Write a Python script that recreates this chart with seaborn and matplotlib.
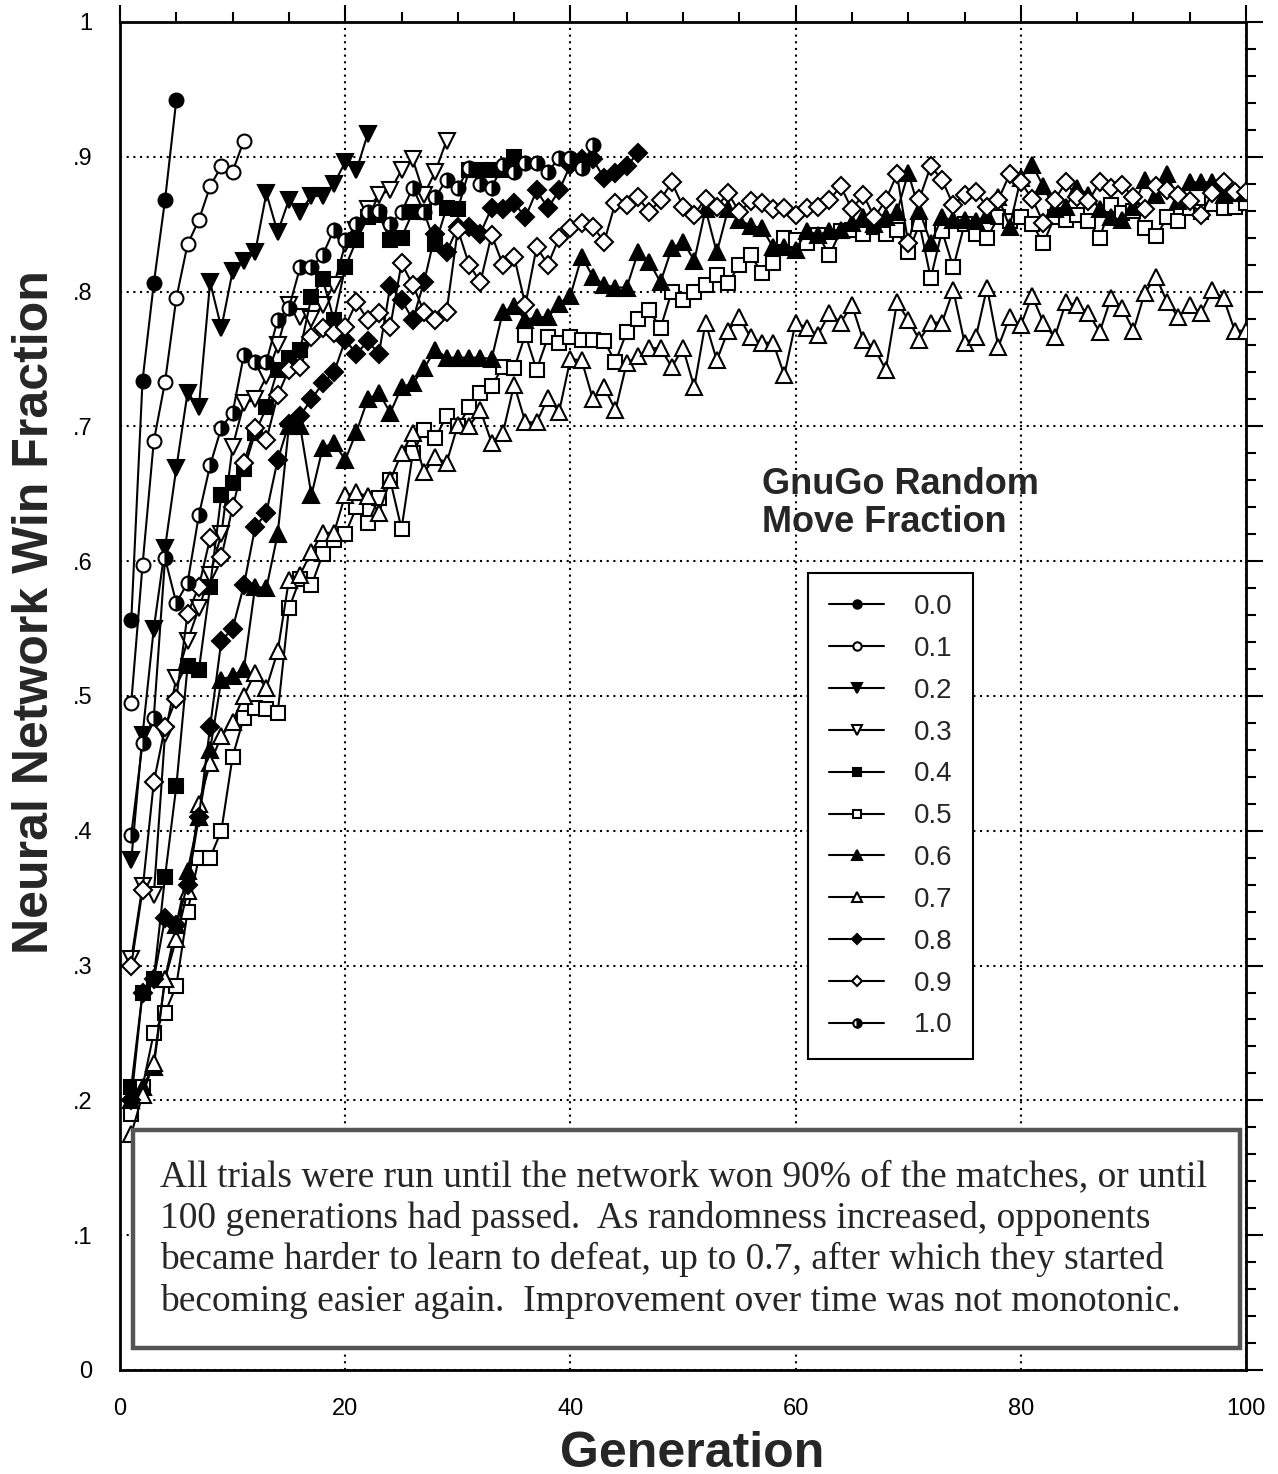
"""
GnuGo random move fraction vs neural network win fraction.
Recreates the per-generation win-fraction curves for 11 opponent settings.
"""

import matplotlib
matplotlib.use("Agg")

import numpy as np
import pandas as pd
import matplotlib.pyplot as plt
from matplotlib.patches import Rectangle
from matplotlib.ticker import MultipleLocator, FixedLocator, FixedFormatter
import seaborn as sns


# =============================================================================
# DATA (win fraction per generation, generation starts at 1)
# =============================================================================

LABELS = ["0.0", "0.1", "0.2", "0.3", "0.4", "0.5",
          "0.6", "0.7", "0.8", "0.9", "1.0"]

win_00 = [0.556, 0.734, 0.806, 0.868, 0.942]

win_01 = [0.495, 0.597, 0.689, 0.733, 0.795, 0.835, 0.853, 0.878, 0.893,
          0.889, 0.912]

win_02 = [0.378, 0.471, 0.550, 0.610, 0.669, 0.725, 0.714, 0.807, 0.773,
          0.815, 0.823, 0.829, 0.873, 0.844, 0.868, 0.859, 0.871, 0.871,
          0.880, 0.896, 0.890, 0.917]

win_03 = [0.305, 0.359, 0.352, 0.472, 0.513, 0.541, 0.565, 0.590, 0.620,
          0.685, 0.717, 0.720, 0.737, 0.760, 0.790, 0.781, 0.780, 0.790,
          0.805, 0.835, 0.846, 0.861, 0.872, 0.875, 0.890, 0.898, 0.872,
          0.889, 0.912]

win_04 = [0.210, 0.280, 0.290, 0.366, 0.433, 0.522, 0.519, 0.581, 0.649,
          0.658, 0.668, 0.695, 0.714, 0.742, 0.751, 0.757, 0.796, 0.809,
          0.779, 0.818, 0.838, 0.855, 0.857, 0.838, 0.840, 0.859, 0.859,
          0.835, 0.862, 0.861, 0.890, 0.890, 0.890, 0.890, 0.900]

win_05 = [0.190, 0.210, 0.250, 0.265, 0.285, 0.340, 0.380, 0.380, 0.400,
          0.455, 0.484, 0.491, 0.490, 0.487, 0.565, 0.587, 0.582, 0.605,
          0.616, 0.620, 0.640, 0.628, 0.647, 0.660, 0.624, 0.680, 0.697,
          0.691, 0.708, 0.700, 0.714, 0.725, 0.730, 0.744, 0.743, 0.768,
          0.742, 0.766, 0.762, 0.766, 0.764, 0.764, 0.763, 0.748, 0.770,
          0.780, 0.786, 0.773, 0.800, 0.794, 0.800, 0.805, 0.812, 0.806,
          0.820, 0.827, 0.814, 0.821, 0.840, 0.838, 0.836, 0.842, 0.827,
          0.845, 0.846, 0.843, 0.848, 0.843, 0.846, 0.829, 0.850, 0.810,
          0.845, 0.818, 0.850, 0.843, 0.840, 0.855, 0.852, 0.855, 0.850,
          0.836, 0.855, 0.853, 0.857, 0.852, 0.840, 0.864, 0.858, 0.860,
          0.847, 0.841, 0.855, 0.852, 0.862, 0.859, 0.865, 0.862, 0.863,
          0.866]

win_06 = [0.200, 0.210, 0.225, 0.290, 0.330, 0.370, 0.410, 0.460, 0.512,
          0.515, 0.520, 0.581, 0.580, 0.620, 0.700, 0.700, 0.649, 0.684,
          0.688, 0.675, 0.696, 0.720, 0.725, 0.710, 0.729, 0.732, 0.743,
          0.757, 0.751, 0.751, 0.751, 0.751, 0.750, 0.785, 0.789, 0.779,
          0.781, 0.781, 0.791, 0.797, 0.826, 0.811, 0.805, 0.803, 0.803,
          0.829, 0.822, 0.807, 0.832, 0.837, 0.823, 0.861, 0.829, 0.861,
          0.853, 0.849, 0.847, 0.833, 0.833, 0.831, 0.845, 0.842, 0.845,
          0.846, 0.851, 0.855, 0.850, 0.855, 0.859, 0.888, 0.860, 0.836,
          0.855, 0.853, 0.853, 0.852, 0.857, 0.870, 0.848, 0.884, 0.894,
          0.878, 0.861, 0.863, 0.877, 0.872, 0.861, 0.855, 0.853, 0.863,
          0.883, 0.872, 0.887, 0.867, 0.881, 0.881, 0.881, 0.872, 0.873,
          0.873]

win_07 = [0.175, 0.204, 0.228, 0.290, 0.320, 0.355, 0.420, 0.450, 0.470,
          0.481, 0.500, 0.517, 0.506, 0.533, 0.586, 0.590, 0.607, 0.621,
          0.621, 0.649, 0.651, 0.648, 0.636, 0.660, 0.680, 0.695, 0.666,
          0.677, 0.673, 0.701, 0.700, 0.712, 0.688, 0.695, 0.731, 0.703,
          0.703, 0.721, 0.711, 0.750, 0.749, 0.720, 0.729, 0.712, 0.747,
          0.752, 0.758, 0.758, 0.744, 0.758, 0.729, 0.777, 0.749, 0.771,
          0.781, 0.766, 0.762, 0.762, 0.738, 0.777, 0.773, 0.768, 0.784,
          0.777, 0.790, 0.764, 0.758, 0.742, 0.792, 0.779, 0.764, 0.777,
          0.777, 0.801, 0.762, 0.766, 0.803, 0.759, 0.781, 0.775, 0.797,
          0.777, 0.766, 0.792, 0.790, 0.784, 0.770, 0.795, 0.788, 0.771,
          0.799, 0.811, 0.792, 0.781, 0.790, 0.784, 0.801, 0.795, 0.771,
          0.771]

win_08 = [0.200, 0.280, 0.290, 0.335, 0.330, 0.360, 0.410, 0.477, 0.541,
          0.550, 0.582, 0.625, 0.636, 0.675, 0.702, 0.708, 0.720, 0.732,
          0.740, 0.764, 0.754, 0.763, 0.754, 0.804, 0.794, 0.779, 0.807,
          0.843, 0.829, 0.848, 0.848, 0.843, 0.862, 0.861, 0.866, 0.855,
          0.875, 0.862, 0.875, 0.894, 0.898, 0.898, 0.884, 0.888, 0.893,
          0.903]

win_09 = [0.300, 0.356, 0.436, 0.477, 0.498, 0.561, 0.581, 0.617, 0.603,
          0.640, 0.673, 0.699, 0.690, 0.723, 0.742, 0.744, 0.766, 0.773,
          0.769, 0.774, 0.792, 0.779, 0.784, 0.774, 0.821, 0.805, 0.785,
          0.779, 0.785, 0.846, 0.820, 0.807, 0.842, 0.820, 0.826, 0.790,
          0.833, 0.820, 0.840, 0.847, 0.851, 0.848, 0.837, 0.866, 0.864,
          0.870, 0.859, 0.868, 0.881, 0.863, 0.857, 0.869, 0.863, 0.873,
          0.859, 0.867, 0.866, 0.861, 0.862, 0.857, 0.862, 0.863, 0.868,
          0.878, 0.861, 0.872, 0.855, 0.868, 0.887, 0.836, 0.869, 0.893,
          0.883, 0.864, 0.872, 0.874, 0.863, 0.868, 0.887, 0.881, 0.869,
          0.851, 0.868, 0.881, 0.870, 0.867, 0.881, 0.877, 0.879, 0.870,
          0.861, 0.878, 0.875, 0.872, 0.867, 0.857, 0.873, 0.881, 0.874,
          0.874]

win_10 = [0.397, 0.465, 0.484, 0.602, 0.569, 0.584, 0.634, 0.671, 0.699,
          0.710, 0.753, 0.748, 0.748, 0.779, 0.788, 0.818, 0.818, 0.827,
          0.846, 0.838, 0.850, 0.859, 0.860, 0.850, 0.859, 0.877, 0.859,
          0.870, 0.883, 0.877, 0.892, 0.880, 0.877, 0.894, 0.889, 0.895,
          0.895, 0.889, 0.899, 0.899, 0.892, 0.909]

SERIES = [win_00, win_01, win_02, win_03, win_04, win_05,
          win_06, win_07, win_08, win_09, win_10]

TEXT_NOTE = (
    "All trials were run until the network won 90% of the matches, or until\n"
    "100 generations had passed.  As randomness increased, opponents\n"
    "became harder to learn to defeat, up to 0.7, after which they started\n"
    "becoming easier again.  Improvement over time was not monotonic."
)


# =============================================================================
# STYLE
# =============================================================================

sns.set_style("white")
plt.rcParams["font.family"] = ["Liberation Sans", "DejaVu Sans"]

# marker, face colour, fill style, size
MARKERS = [
    ("o", "black", "full", 10),
    ("o", "white", "full", 10),
    ("v", "black", "full", 12),
    ("v", "white", "full", 12),
    ("s", "black", "full", 9.5),
    ("s", "white", "full", 9.5),
    ("^", "black", "full", 12),
    ("^", "white", "full", 12),
    ("D", "black", "full", 9),
    ("D", "white", "full", 9),
    ("o", "black", "right", 10),
]


# =============================================================================
# PLOT
# =============================================================================

fig = plt.figure(figsize=(12.78, 14.74), dpi=100)
ax = fig.add_axes([0.0939, 0.0706, 0.8811, 0.9145])

handles = []
for label, values, (mk, face, fill, size) in zip(LABELS, SERIES, MARKERS):
    df = pd.DataFrame({
        "generation": np.arange(1, len(values) + 1),
        "win": values,
    })
    sns.lineplot(
        data=df,
        x="generation",
        y="win",
        ax=ax,
        color="black",
        linewidth=1.5,
        marker=mk,
        markersize=size,
        markerfacecolor=face,
        markerfacecoloralt="white",
        fillstyle=fill,
        markeredgecolor="black",
        markeredgewidth=1.5,
        estimator=None,
        legend=False,
        zorder=3,
    )
    handles.append(ax.lines[-1])

ax.set_xlim(0, 100)
ax.set_ylim(0, 1)

ax.xaxis.set_major_locator(MultipleLocator(20))
ax.xaxis.set_minor_locator(MultipleLocator(5))
y_ticks = [i / 10 for i in range(11)]
y_labels = ["0", ".1", ".2", ".3", ".4", ".5", ".6", ".7", ".8", ".9", "1"]
ax.yaxis.set_major_locator(FixedLocator(y_ticks))
ax.yaxis.set_major_formatter(FixedFormatter(y_labels))
ax.yaxis.set_minor_locator(MultipleLocator(0.02))

ax.tick_params(which="both", direction="out", top=True, right=True,
               width=1.5, colors="black", labelsize=17, pad=8)
ax.tick_params(which="major", length=12)
ax.tick_params(which="minor", length=7)

for spine in ax.spines.values():
    spine.set_linewidth(2)
    spine.set_color("black")

ax.grid(which="major", color="black", linestyle=(0, (1, 2.2)), linewidth=1.5)
ax.set_axisbelow(True)

ax.set_xlabel("Generation", fontsize=36, fontweight="bold", va="center")
ax.xaxis.set_label_coords(0.508, -0.062)
ax.set_ylabel("Neural Network Win Fraction", fontsize=36,
              fontweight="bold", va="center")
ax.yaxis.set_label_coords(-0.0755, 0.562)

# legend title and legend box
ax.text(0.570, 0.643, "GnuGo Random\nMove Fraction", transform=ax.transAxes,
        ha="left", va="center", fontsize=26, fontweight="bold",
        linespacing=1.12, zorder=6)

leg = ax.legend(
    handles, LABELS,
    loc="upper left",
    bbox_to_anchor=(0.611, 0.591),
    frameon=True,
    fancybox=False,
    framealpha=1,
    edgecolor="black",
    fontsize=20,
    markerscale=0.6,
    handlelength=2.0,
    handletextpad=1.05,
    labelspacing=0.57,
    borderpad=0.75,
    borderaxespad=0,
)
leg.get_frame().set_linewidth(1.5)
leg.set_zorder(6)

# annotation box at the bottom
ax.add_patch(Rectangle((0.0115, 0.0163), 0.983, 0.1617,
                       transform=ax.transAxes, facecolor="white",
                       edgecolor="#555555", linewidth=3.2, zorder=5))
ax.text(0.0355, 0.097, TEXT_NOTE, transform=ax.transAxes,
        ha="left", va="center", fontsize=27, linespacing=1.24,
        family=["Liberation Serif", "DejaVu Serif"], zorder=6)

fig.savefig("out.png", dpi=100)
plt.close(fig)
